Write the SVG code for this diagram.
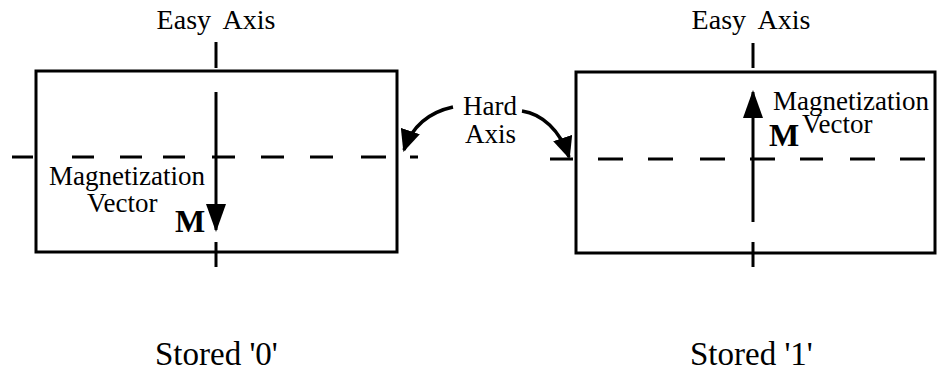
<svg xmlns="http://www.w3.org/2000/svg" width="949" height="376" viewBox="0 0 949 376">
<style>
  text { fill: #000; }
  .lbl { font-size: 27px; }
  .easy { font-size: 28px; word-spacing: 6px; }
  .big { font-size: 33px; }
  .m { font-size: 32px; font-weight: bold; }
  .box { fill: #fff; stroke: #000; stroke-width: 3; }
  .ax { stroke: #000; stroke-width: 3; fill: none; }
  .dash { stroke: #000; stroke-width: 3; fill: none; }
  .cur { stroke: #000; stroke-width: 3.5; fill: none; }
</style>
<defs>
  <marker id="bigHead" viewBox="0 0 28 20" refX="26" refY="10" markerWidth="28" markerHeight="20" markerUnits="userSpaceOnUse" orient="auto">
    <path d="M0,0 L28,10 L0,20 z" fill="#000"/>
  </marker>
  <marker id="curHead" viewBox="0 0 22 20" refX="20" refY="10" markerWidth="22" markerHeight="20" markerUnits="userSpaceOnUse" orient="auto">
    <path d="M0,0 L22,10 L0,20 z" fill="#000"/>
  </marker>
</defs>
<rect width="949" height="376" fill="#fff"/>

<g font-family="'Liberation Serif', 'DejaVu Serif', serif">
<g id="cell0">
  <rect class="box" x="36" y="71" width="361" height="181"/>
  <text class="easy" x="216" y="29" text-anchor="middle">Easy Axis</text>
  <line class="ax" x1="216" y1="42" x2="216" y2="68"/>
  <line class="ax" x1="216" y1="242" x2="216" y2="267"/>
  <path class="dash" d="M12,157 H33 M72,157 H94 M120,157 H142 M163,157 H185 M212,157 H235 M261,157 H284 M310,157 H333 M361,157 H386 M410,157 H418"/>
  <text class="lbl" x="49" y="185">Magnetization</text>
  <text class="lbl" x="87" y="212">Vector</text>
  <text class="m" x="175" y="232">M</text>
  <text class="big" x="155" y="365">Stored '0'</text>
</g>

<g id="cell1">
  <rect class="box" x="576" y="72" width="359" height="181"/>
  <text class="easy" x="751" y="29" text-anchor="middle">Easy Axis</text>
  <line class="ax" x1="753" y1="43" x2="753" y2="68"/>
  <line class="ax" x1="753" y1="242" x2="753" y2="267"/>
  <path class="dash" d="M550,159 H573 M598,159 H623 M648,159 H673 M700,159 H725 M750,159 H775 M800,159 H823 M850,159 H875 M900,159 H925"/>
  <text class="lbl" x="773" y="110">Magnetization</text>
  <text class="lbl" x="802" y="133">Vector</text>
  <text class="m" x="769" y="146">M</text>
  <text class="big" x="690" y="365">Stored '1'</text>
</g>

<g id="hardAxis">
  <text class="lbl" x="463" y="115">Hard</text>
  <text class="lbl" x="465" y="143">Axis</text>
</g>
</g>

<g id="connectors">
  <line class="ax" x1="216" y1="92" x2="216" y2="230" marker-end="url(#bigHead)"/>
  <line class="ax" x1="753" y1="222" x2="753" y2="92" marker-end="url(#bigHead)"/>
  <path class="cur" d="M453,107 C430,112 412,126 404,150" marker-end="url(#curHead)"/>
  <path class="cur" d="M522,111 C542,114 560,130 569,157" marker-end="url(#curHead)"/>
</g>
</svg>
